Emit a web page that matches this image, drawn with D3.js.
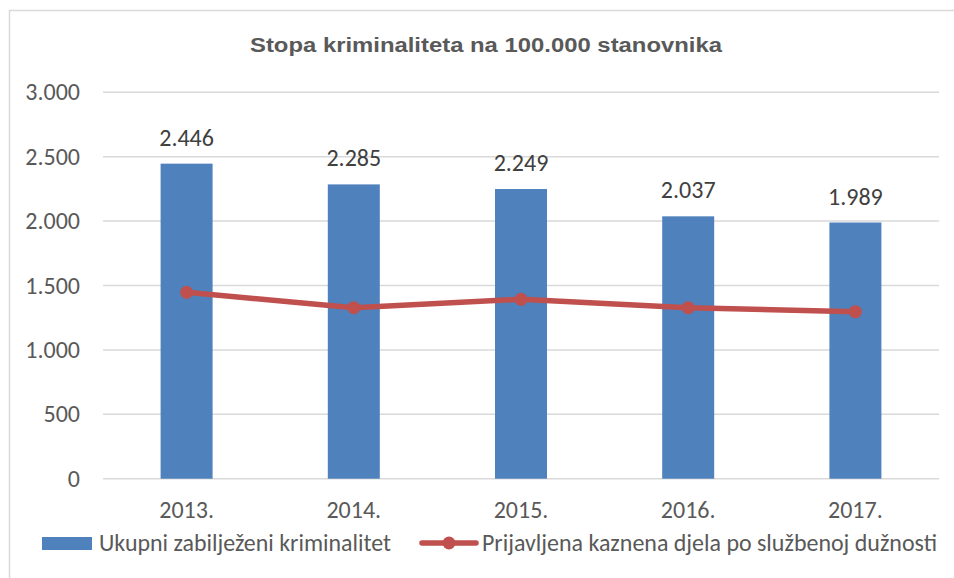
<!DOCTYPE html>
<html>
<head>
<meta charset="utf-8">
<script src="https://cdn.jsdelivr.net/npm/d3@7"></script>
<style>
  html, body { margin: 0; padding: 0; background: #fff; }
  svg { display: block; }
</style>
</head>
<body>
<svg id="chart" width="954" height="578"></svg>
<script>
const title = "Stopa kriminaliteta na 100.000 stanovnika";
const categories = ["2013.", "2014.", "2015.", "2016.", "2017."];
const barSeriesName = "Ukupni zabilježeni kriminalitet";
const barValues = [2446, 2285, 2249, 2037, 1989];
const lineSeriesName = "Prijavljena kaznena djela po službenoj dužnosti";
const lineValues = [1447, 1328, 1393, 1328, 1297];
const yTicks = [0, 500, 1000, 1500, 2000, 2500, 3000];

const fmt = v => d3.format(",")(v).replace(/,/g, ".");

const svg = d3.select("#chart");
const FONT = "Carlito, Lato, 'Open Sans', sans-serif";
const FS = 24;
const plot = { left: 103, right: 939, top: 92.3, bottom: 478.7 };

// frame
svg.append("rect").attr("x", 9.5).attr("y", 10.5).attr("width", 1000).attr("height", 1000)
  .attr("fill", "none").attr("stroke", "#d9d9d9").attr("stroke-width", 1.5);

const x = d3.scaleBand().domain(categories).range([plot.left, plot.right])
  .paddingInner(0.689).paddingOuter(0.3445);
const y = d3.scaleLinear().domain([0, 3000]).range([plot.bottom, plot.top]);

// gridlines
svg.append("g").selectAll("line").data(yTicks).join("line")
  .attr("x1", plot.left).attr("x2", plot.right)
  .attr("y1", d => y(d)).attr("y2", d => y(d))
  .attr("stroke", "#d9d9d9").attr("stroke-width", 1.5);

// y axis labels
const yAxis = d3.axisLeft(y).tickValues(yTicks).tickFormat(fmt).tickSize(0).tickPadding(0);
const yg = svg.append("g").attr("transform", "translate(80,0)").call(yAxis);
yg.select(".domain").remove();
yg.selectAll("text").attr("font-family", FONT).attr("font-size", FS).attr("fill", "#595959")
  .attr("dy", "0.32em");

// x axis labels
const xAxis = d3.axisBottom(x).tickSize(0).tickPadding(0);
const xg = svg.append("g").attr("transform", "translate(0,518)").call(xAxis);
xg.select(".domain").remove();
xg.selectAll("text").attr("font-family", FONT).attr("font-size", FS).attr("fill", "#595959")
  .attr("dy", 0).attr("y", 0);

// bars
svg.append("g").selectAll("rect").data(barValues).join("rect")
  .attr("x", (d, i) => x(categories[i]))
  .attr("width", x.bandwidth())
  .attr("y", d => y(d))
  .attr("height", d => y(0) - y(d))
  .attr("fill", "#4f81bd");

// data labels
svg.append("g").selectAll("text").data(barValues).join("text")
  .attr("x", (d, i) => x(categories[i]) + x.bandwidth() / 2)
  .attr("y", d => y(d) - 18)
  .attr("text-anchor", "middle")
  .attr("font-family", FONT).attr("font-size", FS).attr("fill", "#404040")
  .text(fmt);

// line
const cx = (d, i) => x(categories[i]) + x.bandwidth() / 2;
const line = d3.line().x(cx).y(d => y(d));
svg.append("path").datum(lineValues).attr("d", line)
  .attr("fill", "none").attr("stroke", "#c0504d").attr("stroke-width", 5.5)
  .attr("stroke-linejoin", "round").attr("stroke-linecap", "round");
svg.append("g").selectAll("circle").data(lineValues).join("circle")
  .attr("cx", cx).attr("cy", d => y(d)).attr("r", 6.5).attr("fill", "#c0504d");

// title
svg.append("text").attr("x", 486).attr("y", 52).attr("text-anchor", "middle")
  .attr("font-family", "'Liberation Sans', Arial, sans-serif").attr("font-weight", "bold")
  .attr("font-size", 20).attr("fill", "#595959")
  .attr("textLength", 472).attr("lengthAdjust", "spacingAndGlyphs")
  .text(title);

// legend
const lg = svg.append("g");
lg.append("rect").attr("x", 42).attr("y", 537).attr("width", 50).attr("height", 13).attr("fill", "#4f81bd");
lg.append("text").attr("x", 99).attr("y", 551).attr("font-family", FONT).attr("font-size", FS)
  .attr("fill", "#595959").attr("textLength", 292).attr("lengthAdjust", "spacingAndGlyphs").text(barSeriesName);
lg.append("line").attr("x1", 422).attr("x2", 476).attr("y1", 543).attr("y2", 543)
  .attr("stroke", "#c0504d").attr("stroke-width", 5.5).attr("stroke-linecap", "round");
lg.append("circle").attr("cx", 449).attr("cy", 543).attr("r", 6.5).attr("fill", "#c0504d");
lg.append("text").attr("x", 482).attr("y", 551).attr("font-family", FONT).attr("font-size", FS)
  .attr("fill", "#595959").attr("textLength", 455).attr("lengthAdjust", "spacingAndGlyphs").text(lineSeriesName);
</script>
</body>
</html>
